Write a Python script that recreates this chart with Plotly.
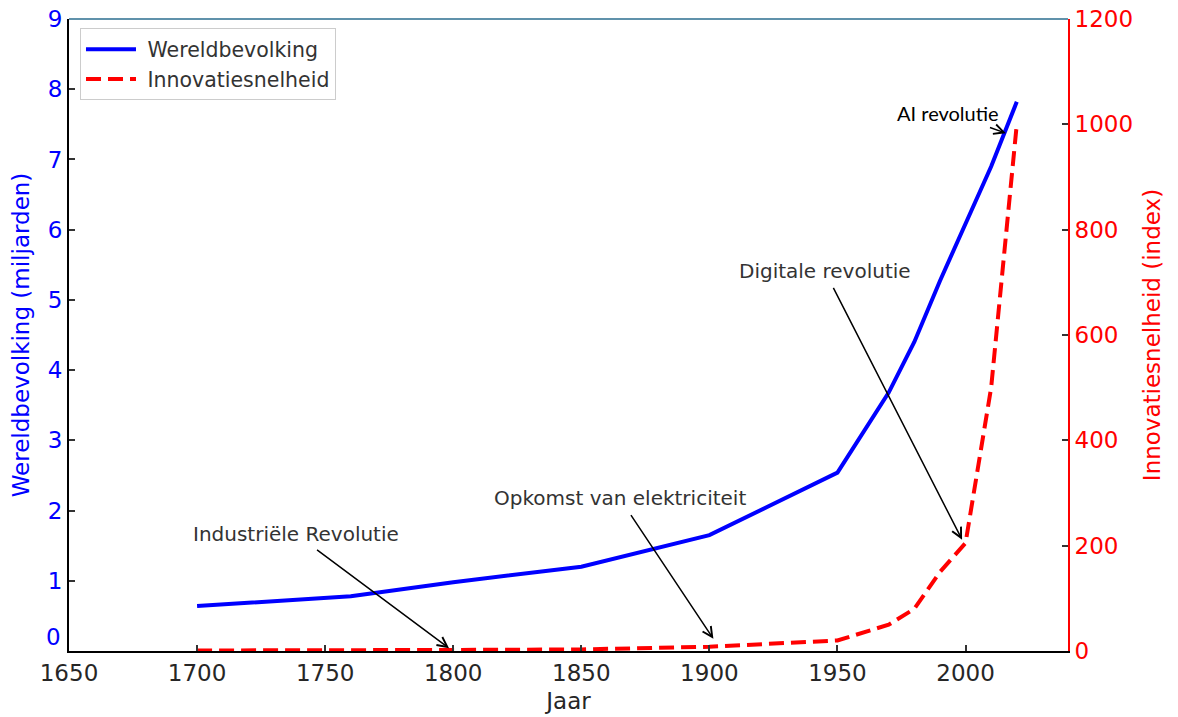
import plotly.graph_objects as go

# ---- data ----
pop_years = [1700, 1760, 1800, 1850, 1900, 1950, 1970, 1980, 1990, 2000, 2010, 2020]
population = [0.64, 0.78, 0.98, 1.2, 1.65, 2.54, 3.68, 4.4, 5.27, 6.07, 6.9, 7.82]

inn_years = [1700, 1750, 1800, 1850, 1900, 1950, 1970, 1980, 1990, 2000, 2010, 2020]
innovation = [1, 1, 2, 3, 8, 20, 50, 80, 150, 205, 500, 1000]

x_ticks = [1650, 1700, 1750, 1800, 1850, 1900, 1950, 2000]
left_ticks = [1, 2, 3, 4, 5, 6, 7, 8, 9]
right_ticks = [0, 200, 400, 600, 800, 1000, 1200]

# annotations: text, text position (year, index), arrow head (year, index)
ann_texts = ["Industriële Revolutie", "Opkomst van elektriciteit", "Digitale revolutie", "AI revolutie"]
ann_text_x = [1738.5, 1865, 1945, 1993]
ann_text_y = [222, 290, 722, 1022]
ann_head_x = [1799, 1902, 1999, 2016.5]
ann_head_y = [3, 20, 208, 982]

FONT = "DejaVu Sans"
BLUE = "#0000ff"
RED = "#ff0000"
TXT = "#333333"

fig = go.Figure()
fig.add_trace(go.Scatter(x=pop_years, y=population, mode="lines", name="\u00a0Wereldbevolking",
                         line=dict(color=BLUE, width=4), yaxis="y"))
fig.add_trace(go.Scatter(x=inn_years, y=innovation, mode="lines", name="\u00a0Innovatiesnelheid",
                         line=dict(color=RED, width=4, dash="15px,7px"), yaxis="y2"))

annotations = []
for t, tx, ty, hx, hy in zip(ann_texts, ann_text_x, ann_text_y, ann_head_x, ann_head_y):
    is_ai = t.startswith("AI")
    annotations.append(dict(
        x=hx, y=hy, xref="x", yref="y2", ax=tx, ay=ty, axref="x", ayref="y2",
        text=t, showarrow=True, arrowhead=5, arrowsize=1.3, arrowwidth=1.5,
        arrowcolor="black", standoff=2, startstandoff=4,
        font=dict(family="Lato" if is_ai else FONT, size=20,
                  color="black" if is_ai else TXT)))
# left "0" label (drawn slightly above the baseline as in the reference)
annotations.append(dict(x=0, y=0, xref="paper", yref="y", text="0", showarrow=False,
                        xanchor="right", yanchor="middle", xshift=-6, yshift=14,
                        font=dict(family=FONT, size=23, color=BLUE)))

fig.update_layout(
    width=1178, height=717,
    margin=dict(l=69, r=110, t=19, b=66),
    paper_bgcolor="white", plot_bgcolor="white",
    font=dict(family=FONT, size=23, color=TXT),
    showlegend=True,
    legend=dict(x=0.011, y=0.985, xanchor="left", yanchor="top",
                bgcolor="rgba(255,255,255,0.9)", bordercolor="#cccccc", borderwidth=1,
                font=dict(family=FONT, size=20.5, color=TXT), itemwidth=50,
                tracegroupgap=0),
    xaxis=dict(range=[1650, 2040], tickvals=x_ticks, showgrid=False, zeroline=False,
               showline=True, linecolor="black", linewidth=2, automargin=False,
               ticks="inside", ticklen=6, tickcolor="#333", tickwidth=1.5,
               tickfont=dict(size=23, color="#262626"),
               title=dict(text="Jaar", font=dict(size=23, color="#262626"), standoff=8)),
    yaxis=dict(range=[0, 9], tickvals=left_ticks, showgrid=False, zeroline=False,
               showline=True, linecolor="black", linewidth=2, automargin=False,
               ticks="inside", ticklen=6, tickcolor="#333", tickwidth=1.5,
               tickfont=dict(size=23, color=BLUE),
               title=dict(text="Wereldbevolking (miljarden)", font=dict(size=23, color=BLUE), standoff=12)),
    yaxis2=dict(range=[0, 1200], tickvals=right_ticks, overlaying="y", side="right",
                showgrid=False, zeroline=False, showline=True, linecolor=RED, linewidth=2,
                automargin=False,
                ticks="inside", ticklen=6, tickcolor="#333", tickwidth=1.5,
                tickfont=dict(size=23, color=RED),
                title=dict(text="Innovatiesnelheid (index)", font=dict(size=23, color=RED), standoff=12)),
    annotations=annotations,
    shapes=[dict(type="line", xref="paper", yref="paper", x0=0, x1=1, y0=1, y1=1,
                 line=dict(color="#2b6e8f", width=1.5))],
)

fig.write_html("out.html", config={"displayModeBar": False},
               post_script="document.body.style.margin='0';document.body.style.overflow='hidden';")
